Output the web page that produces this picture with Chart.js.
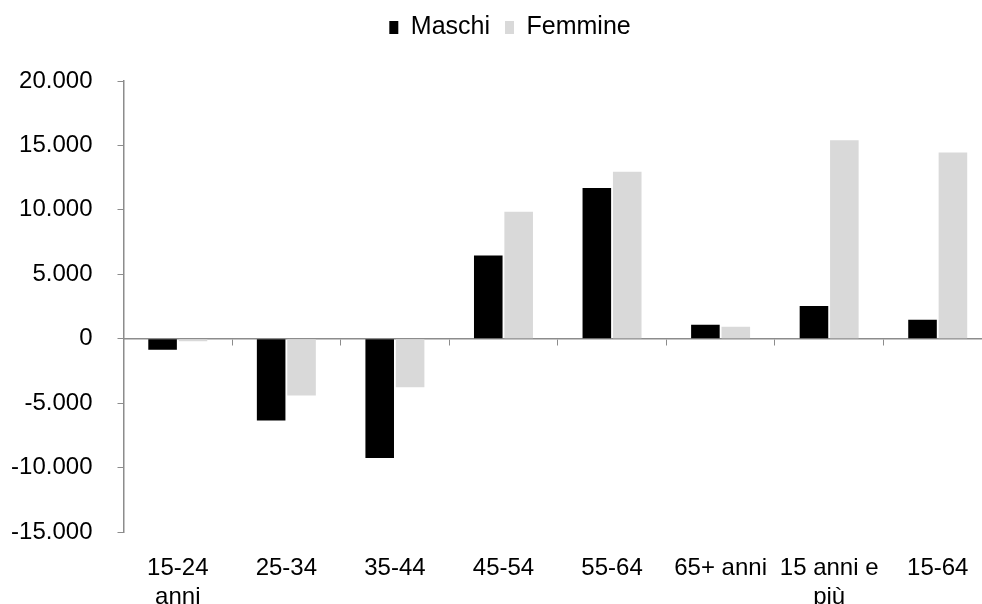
<!DOCTYPE html>
<html>
<head>
<meta charset="utf-8">
<script src="https://cdn.jsdelivr.net/npm/chart.js@4/dist/chart.umd.min.js"></script>
<style>
  html, body { margin: 0; padding: 0; background: #fff; overflow: hidden; }
  #wrap { width: 982px; height: 604px; overflow: hidden; position: relative; }
  canvas { display: block; }
</style>
</head>
<body>
<div id="wrap"><canvas id="c" width="1040" height="604"></canvas></div>
<script>
const categories = [["15-24", "anni"], "25-34", "35-44", "45-54", "55-64", "65+ anni", ["15 anni e", "più"], "15-64"];
const maschi = [-850, -6350, -9250, 6450, 11700, 1080, 2530, 1470];
const femmine = [-200, -4400, -3770, 9850, 12950, 930, 15400, 14450];
const seriesNames = ["Maschi", "Femmine"];
const yMin = -15000, yMax = 20000, yStep = 5000;

function fmt(v) {
  const neg = v < 0;
  const s = String(Math.abs(Math.round(v))).replace(/\B(?=(\d{3})+(?!\d))/g, ".");
  return (neg ? "-" : "") + s;
}

const FONT = { family: "'Liberation Sans', Arial, sans-serif", size: 24 };
const LEGEND_FONT = { family: "'Liberation Sans', Arial, sans-serif", size: 25 };
const AXIS = "#8c8c8c";
const HIDDEN = {
  grid: { display: false },
  border: { display: false },
  ticks: { display: false }
};

new Chart(document.getElementById("c"), {
  type: "bar",
  data: {
    labels: categories,
    datasets: [
      { label: seriesNames[0], data: maschi, backgroundColor: "#000000", borderWidth: 0 },
      { label: seriesNames[1], data: femmine, backgroundColor: "#d9d9d9", borderWidth: 0 }
    ]
  },
  options: {
    responsive: false,
    animation: false,
    devicePixelRatio: 1,
    categoryPercentage: 0.56,
    barPercentage: 0.94,
    layout: { padding: { left: 0, right: 20, top: 0, bottom: 0 } },
    plugins: {
      tooltip: { enabled: false },
      legend: {
        position: "top",
        labels: {
          font: LEGEND_FONT,
          color: "#000",
          boxWidth: 9,
          boxHeight: 13,
          padding: 15
        }
      }
    },
    scales: {
      x: {
        type: "category",
        position: "bottom",
        offset: true,
        grid: { display: false, offset: true },
        border: { display: false },
        ticks: { font: FONT, color: "#000", padding: 14, maxRotation: 0, autoSkip: false },
        afterFit: s => { s.height = 72; }
      },
      x2: {
        type: "category",
        labels: categories,
        position: { y: 0 },
        offset: true,
        grid: { display: true, offset: true, drawOnChartArea: false, drawTicks: true, tickLength: 6, color: AXIS },
        border: { display: true, color: AXIS, width: 1.5 },
        ticks: { display: false }
      },
      xTop: Object.assign({
        type: "category",
        labels: categories,
        position: "top",
        afterFit: s => { s.height = 31; }
      }, HIDDEN),
      y: {
        min: yMin,
        max: yMax,
        grid: { display: true, drawOnChartArea: false, drawTicks: true, tickLength: 6, color: AXIS },
        border: { display: true, color: AXIS, width: 1.5 },
        ticks: { stepSize: yStep, font: FONT, color: "#000", padding: 25, callback: v => fmt(v) },
        afterFit: s => { s.width = 123.5; }
      },
      yRight: Object.assign({
        type: "linear",
        position: "right",
        min: 0,
        max: 1,
        afterFit: s => { s.width = 28; }
      }, HIDDEN)
    }
  }
});
</script>
</body>
</html>
